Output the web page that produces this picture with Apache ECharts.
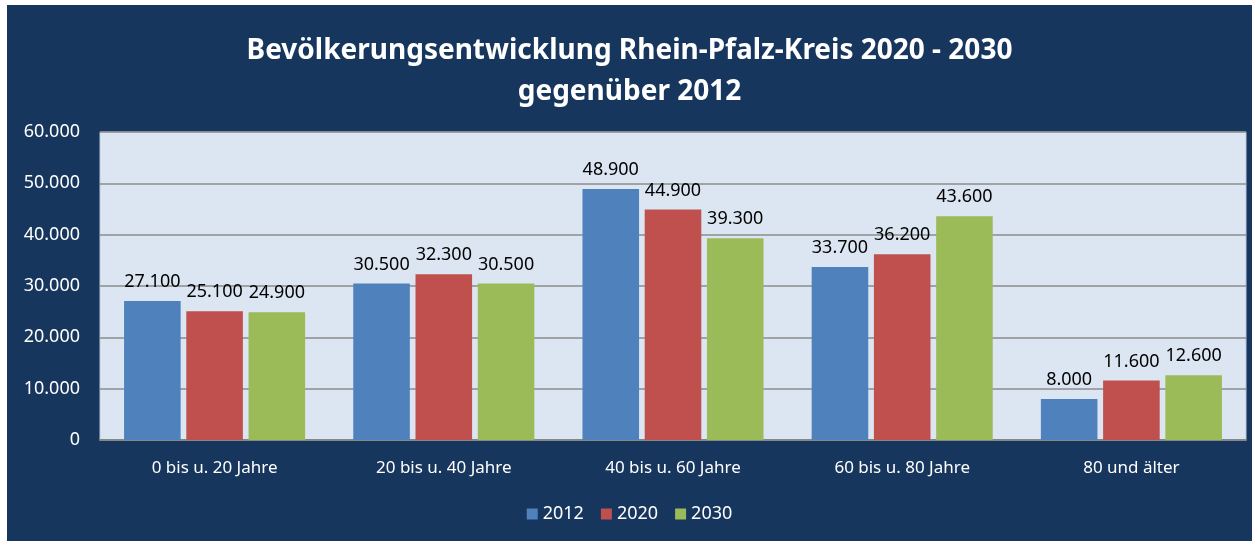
<!DOCTYPE html>
<html>
<head>
<meta charset="utf-8">
<script src="https://cdn.jsdelivr.net/npm/echarts@6/dist/echarts.min.js"></script>
<style>
  html, body { margin: 0; padding: 0; background: #ffffff; }
  #chart { position: absolute; left: 7px; top: 5px; width: 1245px; height: 536px; }
</style>
</head>
<body>
<div id="chart"></div>
<script>
var categories = ['0 bis u. 20 Jahre', '20 bis u. 40 Jahre', '40 bis u. 60 Jahre', '60 bis u. 80 Jahre', '80 und älter'];
var years = ['2012', '2020', '2030'];
var values2012 = [27100, 30500, 48900, 33700, 8000];
var values2020 = [25100, 32300, 44900, 36200, 11600];
var values2030 = [24900, 30500, 39300, 43600, 12600];

function fmt(v) {
  return String(v).replace(/\B(?=(\d{3})+(?!\d))/g, '.');
}

var dom = document.getElementById('chart');
var myChart = echarts.init(dom, null, { renderer: 'canvas' });

var font = 'Noto Sans';
var labelStyle = {
  show: true,
  position: 'top',
  distance: 10,
  color: '#000000',
  fontFamily: font,
  fontSize: 18,
  formatter: function (p) { return fmt(p.value); }
};

function bar(name, data, color) {
  return {
    name: name,
    type: 'bar',
    data: data,
    barGap: '10%',
    barCategoryGap: '21%',
    itemStyle: { color: color },
    label: labelStyle
  };
}

var option = {
  backgroundColor: '#17365D',
  animation: false,
  title: {
    text: 'Bevölkerungsentwicklung Rhein-Pfalz-Kreis 2020 - 2030\ngegenüber 2012',
    left: 'center',
    top: 21,
    textStyle: {
      color: '#ffffff',
      fontFamily: font,
      fontWeight: 'bold',
      fontSize: 28,
      lineHeight: 41
    }
  },
  grid: {
    left: 93,
    top: 127,
    width: 1146,
    height: 308,
    show: true,
    backgroundColor: '#DCE6F2',
    borderColor: '#B9C9DD',
    borderWidth: 1
  },
  legend: {
    data: years,
    bottom: 13,
    left: 'center',
    itemWidth: 11,
    itemHeight: 11,
    itemGap: 17,
    icon: 'rect',
    textStyle: { color: '#ffffff', fontFamily: font, fontSize: 18 }
  },
  xAxis: {
    type: 'category',
    data: categories,
    axisLine: { lineStyle: { color: '#868686', width: 2 } },
    axisTick: { show: false },
    axisLabel: { color: '#ffffff', fontFamily: font, fontSize: 17, margin: 20 }
  },
  yAxis: {
    type: 'value',
    min: 0,
    max: 60000,
    interval: 10000,
    axisLine: { show: false },
    axisTick: { show: false },
    splitLine: { lineStyle: { color: '#8C8C8C', width: 1.5 } },
    axisLabel: {
      color: '#ffffff',
      fontFamily: font,
      fontSize: 18,
      margin: 20,
      formatter: function (v) { return fmt(v); }
    }
  },
  series: [
    bar(years[0], values2012, '#4F81BD'),
    bar(years[1], values2020, '#C0504D'),
    bar(years[2], values2030, '#9BBB59')
  ]
};

myChart.setOption(option);
window.addEventListener('resize', myChart.resize);
</script>
</body>
</html>
